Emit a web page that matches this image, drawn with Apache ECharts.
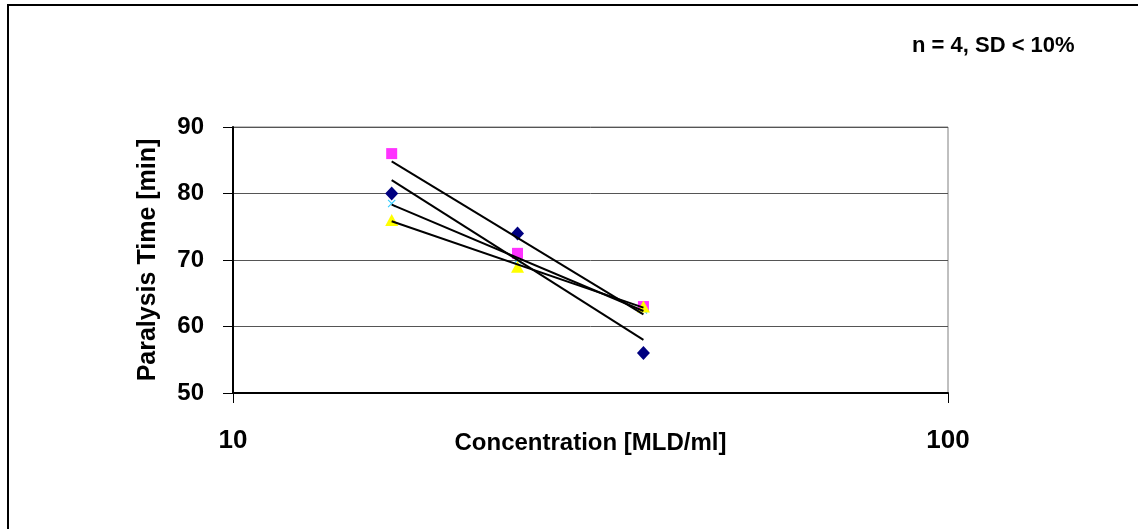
<!DOCTYPE html>
<html>
<head>
<meta charset="utf-8">
<script src="https://cdn.jsdelivr.net/npm/echarts@6/dist/echarts.min.js"></script>
<style>
html,body{margin:0;padding:0;background:#fff;}
#c{width:1138px;height:529px;}
</style>
</head>
<body>
<div id="c"></div>
<script>
// Concentrations (MLD/ml)
var concentrations = [16.67, 25, 37.5];
// Paralysis time series (min)
var seriesBlue = [80, 74, 56];
var seriesPink = [86, 71, 63];
var seriesYellow = [76, 69, 63];
var seriesCyan = [78.5, 70, 62.5];
var xTicks = [10, 100];
var yTicks = [50, 60, 70, 80, 90];
var noteText = 'n = 4, SD < 10%';

function pts(vals) {
  return vals.map(function (v, i) { return [concentrations[i], v]; });
}
// logarithmic trendline (least squares on log10 x), drawn from first to last x
function trend(vals) {
  var lx = concentrations.map(function (x) { return Math.log10(x); });
  var n = lx.length, sx = 0, sy = 0, sxx = 0, sxy = 0;
  for (var i = 0; i < n; i++) { sx += lx[i]; sy += vals[i]; sxx += lx[i] * lx[i]; sxy += lx[i] * vals[i]; }
  var b = (n * sxy - sx * sy) / (n * sxx - sx * sx);
  var a = (sy - b * sx) / n;
  var x0 = concentrations[0], x1 = concentrations[n - 1];
  return [[x0, a + b * Math.log10(x0)], [x1, a + b * Math.log10(x1)]];
}

var FONT = '"Liberation Sans", Arial, sans-serif';
var xSymbol = 'path://M0,1L1,0L5,4L9,0L10,1L6,5L10,9L9,10L5,6L1,10L0,9L4,5Z';

var chart = echarts.init(document.getElementById('c'));
function trendSeries(vals) {
  return {
    type: 'line', data: trend(vals), symbol: 'none', silent: true, z: 5,
    lineStyle: { color: '#000', width: 2 }
  };
}
chart.setOption({
  animation: false,
  backgroundColor: '#fff',
  graphic: [
    { type: 'rect', shape: { x: 8, y: 5, width: 1200, height: 600 },
      style: { fill: 'none', stroke: '#000', lineWidth: 2 }, z: 100 },
    { type: 'text', left: 912, top: 35,
      style: { text: noteText, font: 'bold 22px ' + FONT, fill: '#000' } }
  ],
  grid: { left: 233, top: 127, width: 715, height: 266, show: true,
    borderColor: '#808080', borderWidth: 1, backgroundColor: '#fff' },
  xAxis: {
    type: 'log', logBase: 10, min: xTicks[0], max: xTicks[xTicks.length - 1],
    name: 'Concentration [MLD/ml]', nameLocation: 'middle', nameGap: 38,
    nameMoveOverlap: false,
    nameTextStyle: { fontFamily: FONT, fontWeight: 'bold', fontSize: 24, color: '#000' },
    axisLine: { lineStyle: { color: '#000', width: 2 } },
    axisTick: { show: true, length: 10, lineStyle: { color: '#000', width: 1 } },
    axisLabel: { fontFamily: FONT, fontWeight: 'bold', fontSize: 26, color: '#000', margin: 35 },
    splitLine: { show: false },
    minorTick: { show: false }
  },
  yAxis: {
    type: 'value', min: yTicks[0], max: yTicks[yTicks.length - 1], interval: 10,
    name: 'Paralysis Time [min]', nameLocation: 'middle', nameGap: 72,
    nameMoveOverlap: false,
    nameTextStyle: { fontFamily: FONT, fontWeight: 'bold', fontSize: 25, color: '#000' },
    axisLine: { show: true, lineStyle: { color: '#000', width: 2 } },
    axisTick: { show: true, length: 10, lineStyle: { color: '#000', width: 1 } },
    axisLabel: { fontFamily: FONT, fontWeight: 'bold', fontSize: 24, color: '#000', margin: 29 },
    splitLine: { show: true, lineStyle: { color: '#555', width: 1 } }
  },
  series: [
    { type: 'scatter', data: pts(seriesCyan), symbol: xSymbol, symbolSize: 8,
      itemStyle: { color: '#33ccff', opacity: 1 }, z: 2 },
    { type: 'scatter', data: pts(seriesBlue), symbol: 'diamond', symbolSize: [13, 14],
      itemStyle: { color: '#000080', opacity: 1 }, z: 3 },
    { type: 'scatter', data: pts(seriesPink), symbol: 'rect', symbolSize: 11,
      itemStyle: { color: '#ff33ff', opacity: 1 }, z: 3 },
    { type: 'scatter', data: pts(seriesYellow), symbol: 'triangle', symbolSize: [13, 12],
      itemStyle: { color: '#ffff00', opacity: 1 }, z: 3 },
    trendSeries(seriesBlue),
    trendSeries(seriesPink),
    trendSeries(seriesYellow),
    trendSeries(seriesCyan)
  ]
});
</script>
</body>
</html>
